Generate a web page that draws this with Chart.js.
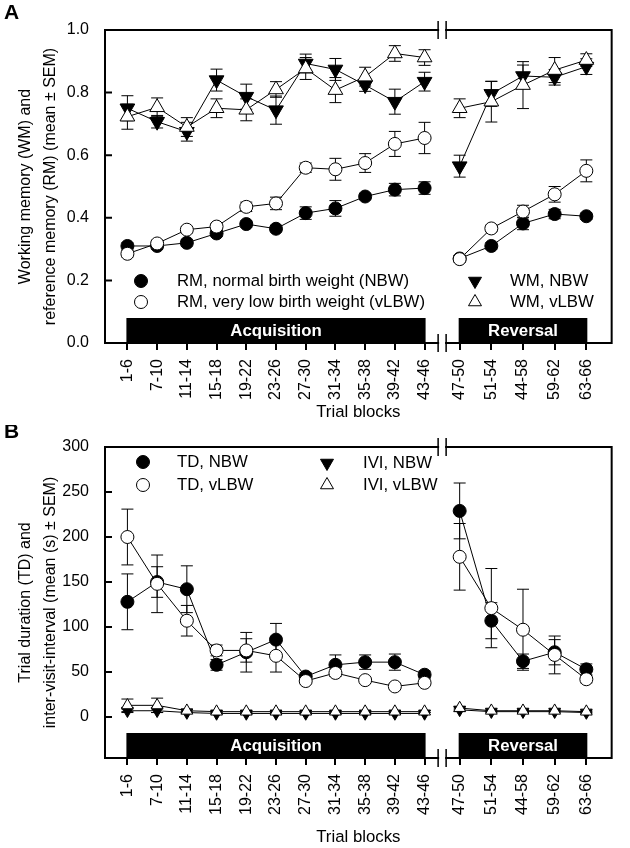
<!DOCTYPE html>
<html>
<head>
<meta charset="utf-8">
<script src="https://cdn.jsdelivr.net/npm/chart.js@4/dist/chart.umd.min.js"></script>
<style>
  html, body { margin: 0; padding: 0; background: #fff; }
  #wrap { position: relative; width: 630px; height: 848px; }
  canvas { position: absolute; left: 0; }
  #chartA { top: 0; }
  #chartB { top: 425px; }
</style>
</head>
<body>
<div id="wrap">
  <canvas id="chartA" width="630" height="425"></canvas>
  <canvas id="chartB" width="630" height="423"></canvas>
</div>
<script>
// trial blocks
const acqBlocks = ['1-6', '7-10', '11-14', '15-18', '19-22', '23-26', '27-30', '31-34', '35-38', '39-42', '43-46'];
const revBlocks = ['47-50', '51-54', '44-58', '59-62', '63-66'];

// panel A - reference memory (RM) and working memory (WM), mean and SEM
const rmNbwAcq     = [0.31, 0.31, 0.32, 0.35, 0.38, 0.365, 0.415, 0.43, 0.468, 0.49, 0.495];
const rmNbwAcqSem  = [0.01, 0.01, 0.01, 0.01, 0.01, 0.01, 0.02, 0.025, 0.01, 0.02, 0.02];
const rmVlbwAcq    = [0.285, 0.318, 0.362, 0.372, 0.435, 0.446, 0.56, 0.555, 0.575, 0.636, 0.655];
const rmVlbwAcqSem = [0.01, 0.01, 0.01, 0.01, 0.015, 0.02, 0.015, 0.035, 0.03, 0.04, 0.05];
const wmNbwAcq     = [0.75, 0.707, 0.675, 0.84, 0.787, 0.744, 0.893, 0.874, 0.824, 0.771, 0.835];
const wmNbwAcqSem  = [0.04, 0.02, 0.03, 0.035, 0.04, 0.045, 0.03, 0.035, 0.02, 0.04, 0.03];
const wmVlbwAcq    = [0.723, 0.753, 0.69, 0.75, 0.745, 0.81, 0.877, 0.808, 0.851, 0.925, 0.912];
const wmVlbwAcqSem = [0.04, 0.03, 0.03, 0.03, 0.035, 0.025, 0.035, 0.04, 0.03, 0.025, 0.025];

const rmNbwRev     = [0.27, 0.31, 0.382, 0.412, 0.405];
const rmNbwRevSem  = [0.01, 0.01, 0.02, 0.015, 0.01];
const rmVlbwRev    = [0.268, 0.366, 0.42, 0.475, 0.55];
const rmVlbwRevSem = [0.01, 0.01, 0.02, 0.025, 0.035];
const wmNbwRev     = [0.565, 0.796, 0.853, 0.849, 0.883];
const wmNbwRevSem  = [0.035, 0.04, 0.035, 0.025, 0.025];
const wmVlbwRev    = [0.75, 0.771, 0.824, 0.872, 0.904];
const wmVlbwRevSem = [0.03, 0.065, 0.075, 0.04, 0.02];

// panel B - trial duration (TD) and inter-visit-interval (IVI), seconds
const tdNbwAcq      = [128, 150, 142, 58, 72, 86, 45, 58, 61, 61, 47];
const tdNbwAcqSem   = [31, 17, 26, 6, 22, 18, 4, 11, 8, 9, 4];
const tdVlbwAcq     = [200, 148, 107, 74, 74, 68, 40, 49, 41, 34, 38];
const tdVlbwAcqSem  = [31, 32, 17, 6, 13, 18, 3, 4, 3, 3, 3];
const iviNbwAcq     = [7, 7, 5, 4, 4, 4, 4, 4, 4, 4, 4];
const iviNbwAcqSem  = [2, 2, 1, 1, 1, 1, 1, 1, 1, 1, 1];
const iviVlbwAcq    = [13, 13, 7, 6, 6, 6, 6, 6, 6, 6, 6];
const iviVlbwAcqSem = [7, 8, 2, 1, 1, 1, 1, 1, 1, 1, 1];

const tdNbwRev      = [229, 107, 62, 72, 53];
const tdNbwRevSem   = [31, 20, 8, 14, 6];
const tdVlbwRev     = [178, 121, 97, 69, 42];
const tdVlbwRevSem  = [37, 44, 45, 21, 4];
const iviNbwRev     = [8, 6, 6, 6, 5];
const iviNbwRevSem  = [2, 1, 1, 1, 1];
const iviVlbwRev    = [10, 7, 7, 7, 6];
const iviVlbwRevSem = [2, 1, 1, 1, 1];

// font: narrow sans if present, otherwise plain sans a bit smaller
function hasFont(name) {
  const c = document.createElement('canvas').getContext('2d');
  c.font = '40px monospace';
  const w0 = c.measureText('mmmWWWiii 0123').width;
  c.font = '40px "' + name + '", monospace';
  return Math.abs(c.measureText('mmmWWWiii 0123').width - w0) > 0.5;
}
const NARROW = hasFont('Liberation Sans Narrow');
const FAMILY = NARROW ? '"Liberation Sans Narrow", "Liberation Sans", sans-serif' : '"Liberation Sans", Arial, sans-serif';
const K = NARROW ? 1 : 0.84;
const fs = n => Math.round(n * K * 10) / 10;

const filledCircle = { shape: 'circle', r: 6.5, fill: '#000', order: 2 };
const openCircle   = { shape: 'circle', r: 6.5, fill: '#fff', order: 1 };
const filledDown   = { shape: 'triangle', rot: 180, r: 8.5, fill: '#000', order: 2 };
const openUp       = { shape: 'triangle', rot: 0, r: 8.5, fill: '#fff', order: 1 };
const filledDownSm = { shape: 'triangle', rot: 180, r: 6.8, fill: '#000', order: 2 };
const openUpSm     = { shape: 'triangle', rot: 0, r: 6.8, fill: '#fff', order: 1 };

function series(label, values, sem, axis, st) {
  return {
    label: label,
    sem: sem,
    xAxisID: axis,
    yAxisID: 'y',
    data: values.map((v, i) => ({ x: i, y: v })),
    borderColor: '#000',
    borderWidth: 1,
    tension: 0,
    fill: false,
    pointStyle: st.shape,
    pointRotation: st.rot || 0,
    pointRadius: st.r,
    pointBackgroundColor: st.fill,
    pointBorderColor: '#000',
    pointBorderWidth: 1,
    order: st.order
  };
}

function drawMarker(ctx, st, x, y, r) {
  ctx.beginPath();
  if (st.shape === 'circle') {
    ctx.arc(x, y, r, 0, Math.PI * 2);
  } else {
    const s = st.rot ? -1 : 1;
    ctx.moveTo(x, y - s * r);
    ctx.lineTo(x + r * 0.866, y + s * r / 2);
    ctx.lineTo(x - r * 0.866, y + s * r / 2);
    ctx.closePath();
  }
  ctx.fillStyle = st.fill;
  ctx.fill();
  ctx.lineWidth = 1;
  ctx.strokeStyle = '#000';
  ctx.stroke();
}

const decor = {
  id: 'decor',
  beforeDatasetsDraw(chart, args, o) {
    const { ctx, chartArea: a, scales } = chart;
    ctx.save();
    // black phase bars
    o.bars.forEach(b => {
      const sc = scales[b.axis];
      const x0 = sc.getPixelForValue(0) - 1;
      const x1 = sc.getPixelForValue(b.n - 1) + 1;
      ctx.fillStyle = '#000';
      ctx.fillRect(x0, a.bottom - 25, x1 - x0, 25);
      ctx.fillStyle = '#fff';
      ctx.font = 'bold ' + fs(20) + 'px ' + FAMILY;
      ctx.textAlign = 'center';
      ctx.textBaseline = 'middle';
      ctx.fillText(b.text, (x0 + x1) / 2, a.bottom - 12);
    });
    // error bars
    ctx.strokeStyle = '#000';
    ctx.lineWidth = 1;
    chart.data.datasets.forEach((ds, i) => {
      const meta = chart.getDatasetMeta(i);
      const ys = scales[meta.yAxisID];
      meta.data.forEach((pt, j) => {
        const v = ds.data[j].y, e = ds.sem[j];
        const y1 = ys.getPixelForValue(v + e), y2 = ys.getPixelForValue(v - e);
        ctx.beginPath();
        ctx.moveTo(pt.x, y1); ctx.lineTo(pt.x, y2);
        ctx.moveTo(pt.x - 6, y1); ctx.lineTo(pt.x + 6, y1);
        ctx.moveTo(pt.x - 6, y2); ctx.lineTo(pt.x + 6, y2);
        ctx.stroke();
      });
    });
    ctx.restore();
  },
  afterDraw(chart, args, o) {
    const { ctx, chartArea: a, scales } = chart;
    const bx = scales.xa.right;
    ctx.save();
    ctx.strokeStyle = '#000';
    // frame with break
    ctx.lineWidth = 2;
    ctx.lineCap = 'square';
    ctx.beginPath();
    ctx.moveTo(bx - 4, a.top); ctx.lineTo(a.left, a.top); ctx.lineTo(a.left, a.bottom); ctx.lineTo(bx - 4, a.bottom);
    ctx.moveTo(bx + 4, a.top); ctx.lineTo(a.right, a.top); ctx.lineTo(a.right, a.bottom); ctx.lineTo(bx + 4, a.bottom);
    ctx.stroke();
    ctx.lineCap = 'butt';
    ctx.lineWidth = 1.5;
    ctx.beginPath();
    [a.top, a.bottom].forEach(y => {
      [-4, 4].forEach(d => { ctx.moveTo(bx + d, y - 9); ctx.lineTo(bx + d, y + 9); });
    });
    ctx.stroke();
    // inward y ticks
    ctx.lineWidth = 2;
    ctx.beginPath();
    scales.y.ticks.forEach(t => {
      const y = scales.y.getPixelForValue(t.value);
      ctx.moveTo(a.left, y); ctx.lineTo(a.left + 7, y);
    });
    ctx.stroke();
    // legend
    ctx.font = fs(20) + 'px ' + FAMILY;
    ctx.textAlign = 'left';
    ctx.textBaseline = 'middle';
    o.legend.forEach(it => {
      drawMarker(ctx, it.st, it.x, it.y, it.st.shape === 'circle' ? 6.5 : 7.5);
      ctx.fillStyle = '#000';
      ctx.fillText(it.text, it.tx, it.y);
    });
    // x title and panel letter
    ctx.textAlign = 'center';
    ctx.font = fs(20) + 'px ' + FAMILY;
    ctx.fillText('Trial blocks', (a.left + a.right) / 2, o.titleY);
    ctx.textAlign = 'left';
    ctx.font = 'bold 21px ' + FAMILY;
    ctx.fillText(o.letter, 4, o.letterY);
    ctx.restore();
  }
};

function xAxis(labels, weight, min, max, height) {
  return {
    type: 'linear',
    position: 'bottom',
    stack: 'x',
    stackWeight: weight,
    min: min,
    max: max,
    bounds: 'data',
    afterBuildTicks: s => { s.ticks = labels.map((_, i) => ({ value: i })); },
    afterFit: s => { s.height = height; },
    border: { display: false },
    grid: { drawOnChartArea: false, drawTicks: true, tickLength: 7, lineWidth: 2, color: '#000' },
    ticks: {
      autoSkip: false, minRotation: 90, maxRotation: 90, padding: 9,
      color: '#000', font: { family: FAMILY, size: fs(19) },
      callback: v => labels[v]
    }
  };
}

function makePanel(id, p) {
  return new Chart(document.getElementById(id), {
    type: 'line',
    data: { datasets: p.datasets },
    options: {
      responsive: false,
      animation: false,
      events: [],
      layout: { padding: { left: 0, right: 5, top: p.top, bottom: 0 } },
      plugins: {
        legend: { display: false },
        tooltip: { enabled: false },
        decor: p.decor
      },
      scales: {
        y: {
          position: 'left',
          min: p.yMin,
          max: p.yMax,
          afterBuildTicks: s => { s.ticks = p.yTicks.map(v => ({ value: v })); },
          afterFit: s => { s.width = 105; },
          grid: { display: false },
          border: { display: false },
          ticks: { color: '#000', padding: 8, font: { family: FAMILY, size: fs(19) }, callback: p.yFmt },
          title: {
            display: true, text: p.yTitle, color: '#000',
            font: { family: FAMILY, size: fs(19), lineHeight: 25.5 / fs(19) },
            padding: { top: 12.5, bottom: 0 }
          }
        },
        xa: xAxis(acqBlocks, 346, -0.754, 10.59, p.xHeight),
        xr: xAxis(revBlocks, 174, -0.554, 4.8, p.xHeight)
      }
    },
    plugins: [decor]
  });
}

makePanel('chartA', {
  top: 30,
  xHeight: 82,
  yMin: 0, yMax: 1,
  yTicks: [0, 0.2, 0.4, 0.6, 0.8, 1.0],
  yFmt: v => v.toFixed(1),
  yTitle: ['Working memory (WM) and', 'reference memory (RM) (mean \u00b1 SEM)'],
  datasets: [
    series('RM, normal birth weight (NBW)', rmNbwAcq, rmNbwAcqSem, 'xa', filledCircle),
    series('RM, very low birth weight (vLBW)', rmVlbwAcq, rmVlbwAcqSem, 'xa', openCircle),
    series('WM, NBW', wmNbwAcq, wmNbwAcqSem, 'xa', filledDown),
    series('WM, vLBW', wmVlbwAcq, wmVlbwAcqSem, 'xa', openUp),
    series('RM, NBW reversal', rmNbwRev, rmNbwRevSem, 'xr', filledCircle),
    series('RM, vLBW reversal', rmVlbwRev, rmVlbwRevSem, 'xr', openCircle),
    series('WM, NBW reversal', wmNbwRev, wmNbwRevSem, 'xr', filledDown),
    series('WM, vLBW reversal', wmVlbwRev, wmVlbwRevSem, 'xr', openUp)
  ],
  decor: {
    letter: 'A', letterY: 13, titleY: 412,
    bars: [
      { axis: 'xa', n: acqBlocks.length, text: 'Acquisition' },
      { axis: 'xr', n: revBlocks.length, text: 'Reversal' }
    ],
    legend: [
      { st: filledCircle, x: 141, y: 281, tx: 177, text: 'RM, normal birth weight (NBW)' },
      { st: openCircle, x: 141, y: 302, tx: 177, text: 'RM, very low birth weight (vLBW)' },
      { st: filledDown, x: 475, y: 281, tx: 510, text: 'WM, NBW' },
      { st: openUp, x: 475, y: 302, tx: 510, text: 'WM, vLBW' }
    ]
  }
});

makePanel('chartB', {
  top: 22,
  xHeight: 90,
  yMin: -45.5, yMax: 300,
  yTicks: [0, 50, 100, 150, 200, 250, 300],
  yFmt: v => String(v),
  yTitle: ['Trial duration (TD) and', 'inter-visit-interval (mean (s) \u00b1 SEM)'],
  datasets: [
    series('TD, NBW', tdNbwAcq, tdNbwAcqSem, 'xa', filledCircle),
    series('TD, vLBW', tdVlbwAcq, tdVlbwAcqSem, 'xa', openCircle),
    series('IVI, NBW', iviNbwAcq, iviNbwAcqSem, 'xa', filledDownSm),
    series('IVI, vLBW', iviVlbwAcq, iviVlbwAcqSem, 'xa', openUpSm),
    series('TD, NBW reversal', tdNbwRev, tdNbwRevSem, 'xr', filledCircle),
    series('TD, vLBW reversal', tdVlbwRev, tdVlbwRevSem, 'xr', openCircle),
    series('IVI, NBW reversal', iviNbwRev, iviNbwRevSem, 'xr', filledDownSm),
    series('IVI, vLBW reversal', iviVlbwRev, iviVlbwRevSem, 'xr', openUpSm)
  ],
  decor: {
    letter: 'B', letterY: 7, titleY: 412,
    bars: [
      { axis: 'xa', n: acqBlocks.length, text: 'Acquisition' },
      { axis: 'xr', n: revBlocks.length, text: 'Reversal' }
    ],
    legend: [
      { st: filledCircle, x: 143, y: 37, tx: 177, text: 'TD, NBW' },
      { st: openCircle, x: 143, y: 60, tx: 177, text: 'TD, vLBW' },
      { st: filledDown, x: 327, y: 38, tx: 363, text: 'IVI, NBW' },
      { st: openUp, x: 327, y: 60, tx: 363, text: 'IVI, vLBW' }
    ]
  }
});
</script>
</body>
</html>
